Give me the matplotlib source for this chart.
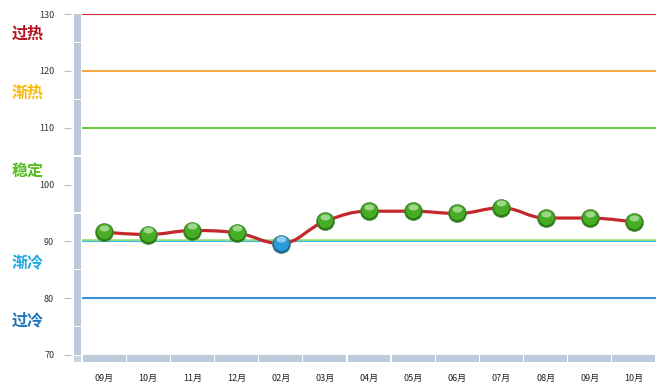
import numpy as np
import matplotlib
matplotlib.use('Agg')
import matplotlib.pyplot as plt
from matplotlib.path import Path
from matplotlib.patches import PathPatch, Rectangle
from matplotlib.transforms import offset_copy

plt.rcParams['font.family'] = ['Noto Sans CJK SC', 'DejaVu Sans']

months = ['09月', '10月', '11月', '12月', '02月', '03月', '04月',
          '05月', '06月', '07月', '08月', '09月', '10月']
values = [91.6, 91.2, 91.9, 91.5, 89.6, 93.5, 95.3,
          95.3, 94.9, 95.9, 94.1, 94.1, 93.4]

levels = [130, 120, 110, 90, 80]
level_colors = ['#cc2a2a', '#f6aa48', '#6acb3a', '#3cbde0', '#3d8fd6']
zone_names = ['过热', '渐热', '稳定', '渐冷', '过冷']
zone_y = [126.5, 116.2, 102.4, 86.2, 76.1]
zone_colors = ['#b3121c', '#f6bb10', '#55bb22', '#22a8e0', '#1f73b7']

W, H = 666, 392
fig = plt.figure(figsize=(W / 100, H / 100), dpi=100)
ax = fig.add_axes([82 / W, 1 - 355 / H, 574 / W, 341 / H])
ax.set_xlim(-0.5, 12.5)
ax.set_ylim(70, 130)

# threshold lines
for lv, c in zip(levels, level_colors):
    ax.plot([-0.5, 12.5], [lv, lv], color=c, lw=1.5, zorder=2,
            solid_capstyle='butt')
ax.plot([-0.5, 12.5], [90, 90], color='#9de27c', lw=1.2, zorder=2,
        transform=offset_copy(ax.transData, fig, y=1.5, units='dots'))

# spline path (highcharts-like)
x = np.arange(len(values), dtype=float)
y = np.array(values)
verts = [(x[0], y[0])]
codes = [Path.MOVETO]
sm = 1.5
lc, rc = [], []
for i in range(len(x)):
    if i == 0 or i == len(x) - 1:
        lc.append((x[i], y[i]))
        rc.append((x[i], y[i]))
        continue
    lx = (sm * x[i] + x[i - 1]) / (sm + 1)
    ly = (sm * y[i] + y[i - 1]) / (sm + 1)
    rx = (sm * x[i] + x[i + 1]) / (sm + 1)
    ry = (sm * y[i] + y[i + 1]) / (sm + 1)
    corr = (ry - ly) * (rx - x[i]) / (rx - lx) + y[i] - ry
    ly += corr
    ry += corr
    if ly > y[i - 1] and ly > y[i]:
        ly = max(y[i - 1], y[i]); ry = 2 * y[i] - ly
    elif ly < y[i - 1] and ly < y[i]:
        ly = min(y[i - 1], y[i]); ry = 2 * y[i] - ly
    if ry > y[i + 1] and ry > y[i]:
        ry = max(y[i + 1], y[i]); ly = 2 * y[i] - ry
    elif ry < y[i + 1] and ry < y[i]:
        ry = min(y[i + 1], y[i]); ly = 2 * y[i] - ry
    lc.append((lx, ly))
    rc.append((rx, ry))
for i in range(1, len(x)):
    verts += [rc[i - 1], lc[i], (x[i], y[i])]
    codes += [Path.CURVE4] * 3
ax.add_patch(PathPatch(Path(verts, codes), fill=False, ec='#c4282d',
                       lw=2.3, zorder=3, capstyle='round'))

# spherical markers
t = np.linspace(0, 2 * np.pi, 40)
gloss = list(zip(1.6 * np.cos(t), np.sin(t)))
for xi, yi in zip(x, y):
    if yi < 90:
        dark, mid, light = '#17679f', '#2b9bd9', '#e6f6ff'
    else:
        dark, mid, light = '#2a7a12', '#46ad24', '#e8fadf'
    ax.plot(xi, yi, 'o', ms=13, color=dark, mec='#5c8a50', mew=0.4, zorder=4)
    ax.plot(xi, yi, 'o', ms=11, color=mid, mew=0, zorder=5,
            transform=offset_copy(ax.transData, fig, y=1, units='dots'))
    ax.plot(xi, yi, marker=gloss, ms=7, color=light, alpha=0.55, mew=0,
            zorder=6,
            transform=offset_copy(ax.transData, fig, y=4.5, units='dots'))

# axes styling
for s in ax.spines.values():
    s.set_visible(False)
ax.spines['left'].set_position(('outward', 8))
ax.set_yticks(range(70, 131, 10))
ax.tick_params(axis='y', length=5, width=0.8, color='#bbbbbb', pad=7,
               labelsize=6.5, labelcolor='#333333')
ax.set_xticks(x)
ax.set_xticklabels(months)
ax.tick_params(axis='x', length=0, pad=14, labelsize=6.5, labelcolor='#222222')

bar = '#bccbdb'
pw, ph = 574.0, 341.0
# vertical bar with separators
ax.add_patch(Rectangle((-8 / pw, 0), 7 / pw, 1, transform=ax.transAxes,
                       color=bar, clip_on=False, lw=0))
for v in [75, 85, 95, 105, 115, 125]:
    fy = (v - 70) / 60
    ax.add_patch(Rectangle((-8 / pw, fy - 0.6 / ph), 7 / pw, 1.2 / ph,
                           transform=ax.transAxes, color='white',
                           clip_on=False, lw=0))
# corner
ax.add_patch(Rectangle((-8 / pw, -7 / ph), 7 / pw, 6 / ph, transform=ax.transAxes,
                       color='#c9d6e3', clip_on=False, lw=0))
# bottom bar segments
for i in range(len(months)):
    x0 = i / len(months)
    ax.add_patch(Rectangle((x0 + 0.6 / pw, -7 / ph), 1 / len(months) - 1.2 / pw,
                           7 / ph, transform=ax.transAxes, color=bar,
                           clip_on=False, lw=0))

# zone labels
for name, zy, c in zip(zone_names, zone_y, zone_colors):
    yf = ax.transData.transform((0, zy))[1]
    fig.text(12 / W, yf / H, name, color=c, fontsize=11.5, fontweight='bold',
             ha='left', va='center')

fig.savefig('out.png', dpi=100)
